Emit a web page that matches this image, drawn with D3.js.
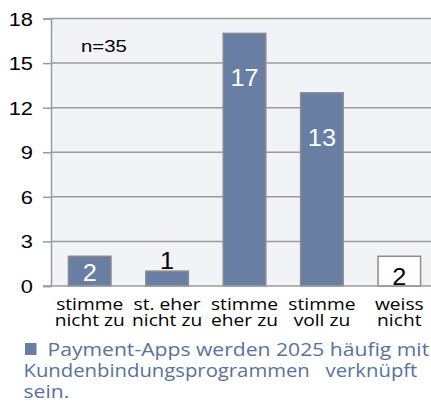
<!DOCTYPE html>
<html><head><meta charset="utf-8">
<script src="https://cdn.jsdelivr.net/npm/d3@7"></script>
<style>body{margin:0;background:#fff}svg{display:block}</style>
</head><body>
<script>
const categories = [["stimme","nicht zu"],["st. eher","nicht zu"],["stimme","eher zu"],["stimme","voll zu"],["weiss","nicht"]];
const values = [2, 1, 17, 13, 2];
const yTicks = [0, 3, 6, 9, 12, 15, 18];
const noteText = "n=35";
const legendLines = ["Payment-Apps werden 2025 häufig mit", "Kundenbindungsprogrammen   verknüpft", "sein."];

const W = 431, H = 405;
const svg = d3.select("body").append("svg").attr("width", W).attr("height", H);
const ARIAL = "Liberation Sans, Arial, sans-serif";
const SANS = "'Open Sans', sans-serif";

const x = d3.scaleBand().domain(d3.range(values.length)).range([51, 438]).paddingInner(0.45).paddingOuter(0.225);
const y = d3.scaleLinear().domain([0, 18]).range([286, 18.5]);

function stretchedText(g, tx, ty, sx, anchor) {
  return g.append("text").attr("transform", `translate(${tx},${ty}) scale(${sx},1)`).attr("text-anchor", anchor);
}

// plot background
svg.append("rect").attr("x", 51).attr("y", y(18)).attr("width", W - 51).attr("height", y(0) - y(18)).attr("fill", "#F2F3F7");

// gridlines
svg.append("g").selectAll("line").data(yTicks.filter(d => d > 0)).join("line")
  .attr("x1", 51).attr("x2", W).attr("y1", d => y(d)).attr("y2", d => y(d))
  .attr("stroke", "#9b9b9b").attr("stroke-width", 1.5);

// y axis
const yAxis = d3.axisLeft(y).tickValues(yTicks).tickSize(8).tickFormat(d3.format("d"));
const gy = svg.append("g").attr("transform", "translate(51,0)").call(yAxis);
gy.select(".domain").attr("stroke", "#9b9b9b").attr("stroke-width", 1.5);
gy.selectAll(".tick line").attr("stroke", "#9b9b9b").attr("stroke-width", 1.5);
gy.selectAll(".tick text").attr("x", 0).attr("dy", 0)
  .attr("transform", "translate(-18,6.5) scale(1.18,1)")
  .attr("font-family", ARIAL).attr("font-size", 18.5).attr("fill", "#000");

// bars
const fills = values.map((d, i) => i === values.length - 1 ? "#ffffff" : "#687FA3");
svg.append("g").selectAll("rect").data(values).join("rect")
  .attr("x", (d, i) => x(i)).attr("width", x.bandwidth())
  .attr("y", d => y(d)).attr("height", d => y(0) - y(d))
  .attr("fill", (d, i) => fills[i]).attr("stroke", "#8c8c8c").attr("stroke-width", 1.5);

// zero line
svg.append("line").attr("x1", 43).attr("x2", W).attr("y1", y(0)).attr("y2", y(0)).attr("stroke", "#9b9b9b").attr("stroke-width", 1.5);

// value labels
const labelOffset = [25, -2, 53, 53, 29];
const labelColor = ["#fff", "#000", "#fff", "#fff", "#000"];
const gl = svg.append("g");
values.forEach((v, i) => {
  stretchedText(gl, x(i) + x.bandwidth() / 2, y(v) + labelOffset[i], 1.1, "middle")
    .attr("font-family", ARIAL).attr("font-size", 23).attr("fill", labelColor[i]).text(v);
});

// category labels (one text element per category, lines as tspans)
const gx = svg.append("g");
categories.forEach((c, i) => {
  const t = stretchedText(gx, x(i) + x.bandwidth() / 2, 309.5, 1.2, "middle")
    .attr("font-family", SANS).attr("font-size", 16).attr("fill", "#000");
  c.forEach((line, j) => {
    t.append("tspan").attr("x", 0).attr("y", j * 16.5).text(line);
  });
});

// note
stretchedText(svg, 81, 52.3, 1.25, "start").attr("font-family", ARIAL).attr("font-size", 16.3).attr("fill", "#000").text(noteText);

// legend
svg.append("rect").attr("x", 25).attr("y", 343).attr("width", 11.5).attr("height", 12).attr("fill", "#687FA3");
const legTexts = legendLines.map((t, i) =>
  svg.append("text").attr("x", 0).attr("y", 0)
    .attr("font-family", SANS).attr("font-size", 18.5).attr("fill", "#5A7299")
    .style("white-space", "pre").text(t));
const sx1 = 382 / legTexts[0].node().getComputedTextLength();
const sx2 = 394 / legTexts[1].node().getComputedTextLength();
const scales = [sx1, sx2, sx1];
legTexts.forEach((t, i) => t.attr("transform", `translate(${i === 0 ? 47.5 : 23.5},${356.3 + i * 21}) scale(${scales[i]},1)`));
</script>
</body></html>
